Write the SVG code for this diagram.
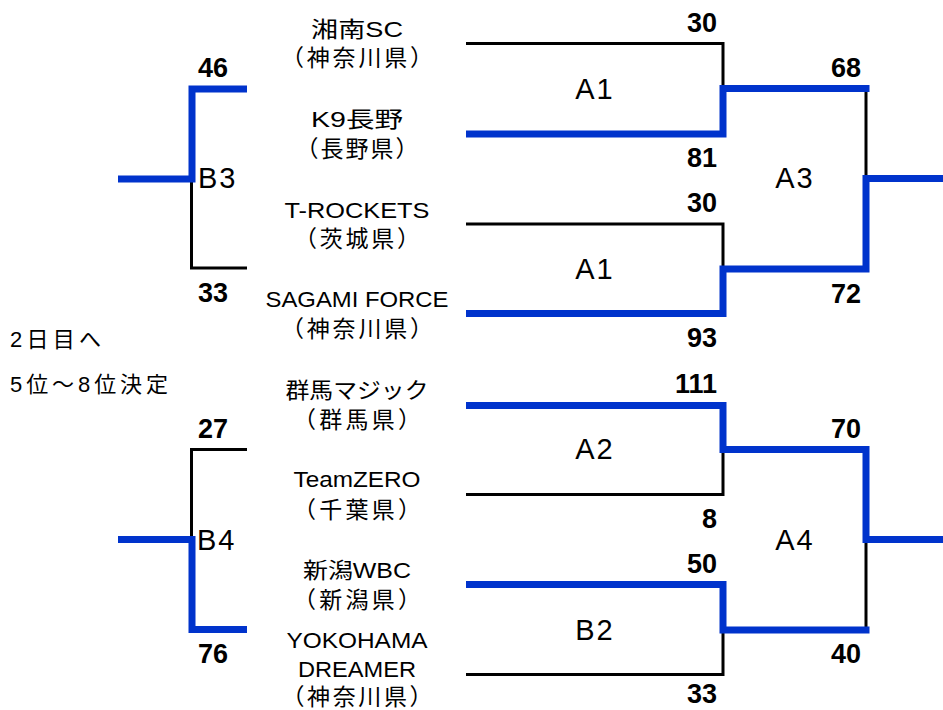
<svg xmlns="http://www.w3.org/2000/svg" width="943" height="710" viewBox="0 0 943 710">
<style>
.bg{fill:#ffffff}
.win{fill:none;stroke:#0033cc;stroke-width:7;stroke-linejoin:miter;stroke-linecap:butt}
.los{fill:none;stroke:#000000;stroke-width:3;stroke-linejoin:miter;stroke-linecap:butt}
.team{font-family:"Liberation Sans","Noto Sans CJK JP",sans-serif;font-size:22px;fill:#000;text-anchor:middle}
.pref{font-size:23px}
.score{font-family:"Liberation Sans","Noto Sans CJK JP",sans-serif;font-size:27px;font-weight:bold;fill:#000}
.r{text-anchor:end}
.m{font-family:"Liberation Sans","Noto Sans CJK JP",sans-serif;font-size:29px;fill:#000;letter-spacing:2px}
.c{text-anchor:middle}
.note{font-family:"Liberation Sans","Noto Sans CJK JP",sans-serif;font-size:22px;fill:#000}
</style>
<rect class="bg" x="0" y="0" width="943" height="710"/>

<g id="connectors">
  <path class="los" d="M466,43.5 H723 V88.5"/>
  <path class="los" d="M466,224 H723 V269"/>
  <path class="los" d="M866,88.5 V178.5"/>
  <path class="win" d="M466,134 H723 V88.5 H869.5"/>
  <path class="win" d="M466,313.5 H723 V269 H866 V178.5 H943"/>
  <path class="los" d="M466,494.5 H723 V449.5"/>
  <path class="los" d="M466,674.5 H723 V630"/>
  <path class="los" d="M866,539.5 V630"/>
  <path class="win" d="M466,405.5 H723 V449.5 H866 V539.5 H943"/>
  <path class="win" d="M466,584.5 H723 V630 H869.5"/>
  <path class="los" d="M247,268 H191.5 V179"/>
  <path class="win" d="M247,89 H192 V179 H118"/>
  <path class="los" d="M247,449.5 H191.5 V539.5"/>
  <path class="win" d="M247,629.5 H192 V539.5 H118"/>
</g>

<g id="team-shonan-sc"><text class="team" x="357" y="37" textLength="92" lengthAdjust="spacingAndGlyphs">湘南SC</text><text class="team pref" x="357" y="66" textLength="152" lengthAdjust="spacing">（神奈川県）</text></g>
<g id="team-k9-nagano"><text class="team" x="357" y="127" textLength="92" lengthAdjust="spacingAndGlyphs">K9長野</text><text class="team pref" x="357" y="157" textLength="123" lengthAdjust="spacing">（長野県）</text></g>
<g id="team-t-rockets"><text class="team" x="357" y="218" textLength="145" lengthAdjust="spacingAndGlyphs">T-ROCKETS</text><text class="team pref" x="357" y="247" textLength="126" lengthAdjust="spacing">（茨城県）</text></g>
<g id="team-sagami-force"><text class="team" x="357" y="307" textLength="183" lengthAdjust="spacingAndGlyphs">SAGAMI FORCE</text><text class="team pref" x="357" y="337" textLength="152" lengthAdjust="spacing">（神奈川県）</text></g>
<g id="team-gunma-magic"><text class="team" x="357" y="398" textLength="143" lengthAdjust="spacingAndGlyphs">群馬マジック</text><text class="team pref" x="357" y="428" textLength="128" lengthAdjust="spacing">（群馬県）</text></g>
<g id="team-teamzero"><text class="team" x="357" y="487" textLength="127" lengthAdjust="spacingAndGlyphs">TeamZERO</text><text class="team pref" x="357" y="518" textLength="128" lengthAdjust="spacing">（千葉県）</text></g>
<g id="team-niigata-wbc"><text class="team" x="357" y="578" textLength="108" lengthAdjust="spacingAndGlyphs">新潟WBC</text><text class="team pref" x="357" y="608" textLength="128" lengthAdjust="spacing">（新潟県）</text></g>
<g id="team-yokohama-dreamer"><text class="team" x="357" y="648" textLength="141" lengthAdjust="spacingAndGlyphs">YOKOHAMA</text><text class="team" x="357" y="677" textLength="118" lengthAdjust="spacingAndGlyphs">DREAMER</text><text class="team pref" x="357" y="705" textLength="151" lengthAdjust="spacing">（神奈川県）</text></g>

<g id="match-a1-top"><text class="m c" x="595" y="99">A1</text><text class="score r" x="717" y="32">30</text><text class="score r" x="717" y="167">81</text></g>
<g id="match-a1-bottom"><text class="m c" x="595" y="279">A1</text><text class="score r" x="717" y="212">30</text><text class="score r" x="717" y="347">93</text></g>
<g id="match-a3"><text class="m c" x="795" y="188">A3</text><text class="score r" x="861" y="77">68</text><text class="score r" x="861" y="303">72</text></g>
<g id="match-a2"><text class="m c" x="595" y="459">A2</text><text class="score r" x="717" y="393">111</text><text class="score r" x="717" y="528">8</text></g>
<g id="match-b2"><text class="m c" x="595" y="640">B2</text><text class="score r" x="717" y="573">50</text><text class="score r" x="717" y="703">33</text></g>
<g id="match-a4"><text class="m c" x="795" y="550">A4</text><text class="score r" x="861" y="438">70</text><text class="score r" x="861" y="663">40</text></g>
<g id="match-b3"><text class="m" x="198" y="188">B3</text><text class="score" x="198" y="77">46</text><text class="score" x="198" y="302">33</text></g>
<g id="match-b4"><text class="m" x="197" y="550">B4</text><text class="score" x="198" y="438">27</text><text class="score" x="198" y="663">76</text></g>

<g id="note">
  <text class="note" x="10" y="347" textLength="91" lengthAdjust="spacing">2日目へ</text>
  <text class="note" x="10" y="392" textLength="158" lengthAdjust="spacing">5位～8位決定</text>
</g>
</svg>
